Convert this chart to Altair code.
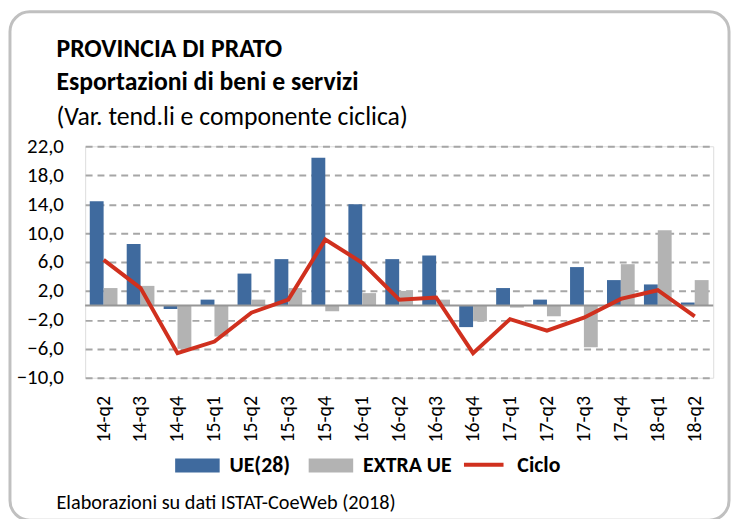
import altair as alt
import pandas as pd

quarters = ["14-q2", "14-q3", "14-q4", "15-q1", "15-q2", "15-q3", "15-q4", "16-q1",
            "16-q2", "16-q3", "16-q4", "17-q1", "17-q2", "17-q3", "17-q4", "18-q1", "18-q2"]
ue28 = [14.4, 8.5, -0.5, 0.8, 4.4, 6.4, 20.4, 14.0, 6.4, 6.9, -3.0, 2.4, 0.8, 5.3, 3.5, 2.9, 0.4]
extra_ue = [2.4, 2.7, -6.0, -4.3, 0.8, 2.4, -0.8, 1.7, 2.0, 0.8, -2.2, -0.3, -1.5, -5.8, 5.7, 10.4, 3.5]
ciclo = [6.3, 2.4, -6.6, -5.0, -1.0, 0.8, 9.1, 5.9, 0.8, 1.1, -6.6, -1.9, -3.5, -1.7, 0.9, 2.1, -1.5]
y_ticks = [-10, -6, -2, 2, 6, 10, 14, 18, 22]

title_lines = ["PROVINCIA DI PRATO", "Esportazioni di beni e servizi"]
subtitle = "(Var. tend.li e componente  ciclica)"
footer_text = "Elaborazioni su dati ISTAT-CoeWeb (2018)"

bar_series = ["UE(28)", "EXTRA UE"]
bar_colors = ["#3F6A9E", "#B3B3B3"]
line_color = "#D0301E"
FONT = "Carlito, Lato, sans-serif"

bars_df = pd.DataFrame({
    "q": quarters * 2,
    "serie": [bar_series[0]] * len(quarters) + [bar_series[1]] * len(quarters),
    "v": ue28 + extra_ue,
})
line_df = pd.DataFrame({"q": quarters, "serie": ["Ciclo"] * len(quarters), "v": ciclo})
zero_df = pd.DataFrame({"v": [0]})
one_df = pd.DataFrame({"t": [footer_text]})

x_axis = alt.Axis(labelAngle=270, labelFontSize=20, labelColor="#000000",
                  labelFont=FONT, domain=False, ticks=False, tickSize=0,
                  labelPadding=18, grid=False, labelOverlap=False, title=None)
x_scale = alt.Scale(paddingInner=0.25, paddingOuter=0.125)
y_scale = alt.Scale(domain=[-10, 22], nice=False, zero=False)
y_axis = alt.Axis(values=y_ticks, labelExpr="replace(format(datum.value, '.1f'), '.', ',')",
                  labelFontSize=21, labelColor="#000000", labelFont=FONT,
                  domain=False, ticks=False, tickSize=0, labelPadding=22,
                  labelOverlap=False, title=None,
                  grid=True, gridDash=[7, 5], gridColor="#A6A6A6", gridWidth=2)

border = alt.Chart(one_df).mark_rect(
    fillOpacity=0, stroke="#C0C0C0", strokeWidth=3, cornerRadius=20
).encode(x=alt.value(-76), x2=alt.value(651), y=alt.value(-136), y2=alt.value(378))

bars = alt.Chart(bars_df).mark_bar().encode(
    x=alt.X("q:N", sort=quarters, scale=x_scale, axis=x_axis),
    xOffset=alt.XOffset("serie:N", sort=bar_series),
    y=alt.Y("v:Q", scale=y_scale, axis=y_axis),
    color=alt.Color("serie:N", sort=bar_series,
                    scale=alt.Scale(domain=bar_series, range=bar_colors),
                    legend=alt.Legend(title=None, orient="none", direction="horizontal",
                                      legendX=91, legendY=300,
                                      symbolType="M-1,-0.31H1V0.31H-1Z", symbolSize=2025,
                                      symbolStrokeWidth=0, symbolOpacity=1,
                                      labelFontSize=22, labelFontWeight="bold",
                                      labelFont=FONT, labelColor="#000000",
                                      labelOffset=10, columnPadding=18)),
)

zero = alt.Chart(zero_df).mark_rule(color="#969696", strokeWidth=2).encode(
    y=alt.Y("v:Q", scale=y_scale, axis=y_axis))

line = alt.Chart(line_df).mark_line(strokeWidth=4).encode(
    x=alt.X("q:N", sort=quarters, scale=x_scale, axis=x_axis),
    y=alt.Y("v:Q", scale=y_scale, axis=y_axis),
    stroke=alt.Stroke("serie:N", scale=alt.Scale(domain=["Ciclo"], range=[line_color]),
                      legend=alt.Legend(title=None, orient="none", legendX=381, legendY=300,
                                        symbolType="stroke", symbolSize=1600,
                                        symbolStrokeWidth=4,
                                        labelFontSize=22, labelFontWeight="bold",
                                        labelFont=FONT, labelColor="#000000",
                                        labelOffset=12)),
)

def text_layer(txt, y, size, weight):
    return alt.Chart(pd.DataFrame({"t": [txt]})).mark_text(
        align="left", baseline="middle", fontSize=size, fontWeight=weight,
        font=FONT, color="#000000").encode(x=alt.value(-29), y=alt.value(y), text="t:N")

t1 = text_layer(title_lines[0], -98, 26, "bold")
t2 = text_layer(title_lines[1], -65, 26, "bold")
t3 = text_layer(subtitle, -30, 26, "normal")
footer = text_layer(footer_text, 361, 20.5, "normal")

chart = alt.layer(border, bars, zero, line, t1, t2, t3, footer).properties(
    width=635, height=234,
    padding={"left": 78, "top": 137, "right": 19, "bottom": 140},
    autosize=alt.AutoSizeParams(type="none"),
).configure_view(strokeWidth=0).configure(background="white")

chart.save("out.html", embed_options={"renderer": "svg", "actions": False})
